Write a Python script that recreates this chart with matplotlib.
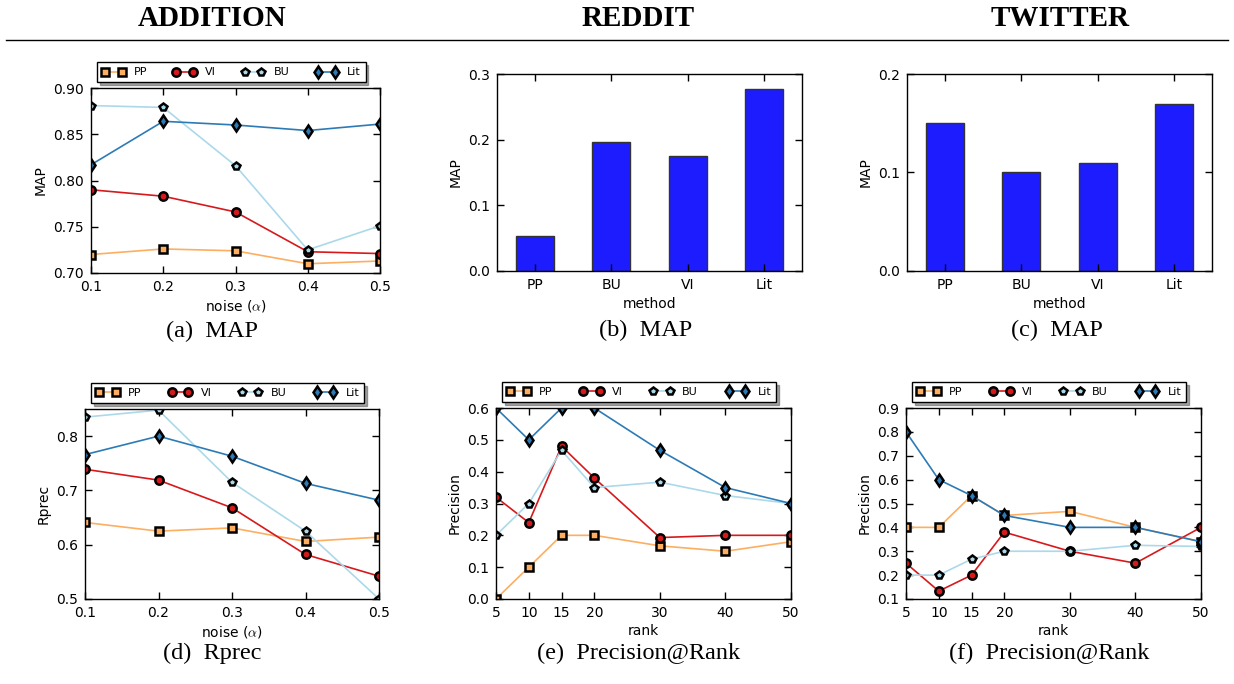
import numpy as np
import matplotlib
matplotlib.use("Agg")
import matplotlib.pyplot as plt

plt.rcParams['font.family'] = ['DejaVu Sans']
plt.rcParams['mathtext.fontset'] = 'cm'

# ---- data ----
noise = [0.1, 0.2, 0.3, 0.4, 0.5]
ranks = [5, 10, 15, 20, 30, 40, 50]
methods = ["PP", "BU", "VI", "Lit"]

# (a) ADDITION MAP
add_map_pp = [0.720, 0.726, 0.724, 0.710, 0.713]
add_map_vi = [0.790, 0.783, 0.766, 0.723, 0.721]
add_map_bu = [0.881, 0.879, 0.816, 0.725, 0.751]
add_map_lit = [0.817, 0.864, 0.860, 0.854, 0.861]

# (d) ADDITION Rprec
add_rp_pp = [0.641, 0.625, 0.631, 0.606, 0.614]
add_rp_vi = [0.739, 0.719, 0.668, 0.582, 0.542]
add_rp_bu = [0.835, 0.848, 0.715, 0.625, 0.500]
add_rp_lit = [0.766, 0.800, 0.763, 0.713, 0.682]

# (b), (c) MAP bars
reddit_map = [0.054, 0.197, 0.175, 0.277]
twitter_map = [0.150, 0.100, 0.110, 0.170]

# (e) REDDIT precision@rank
red_pp = [0.0, 0.1, 0.2, 0.2, 0.167, 0.15, 0.18]
red_vi = [0.32, 0.24, 0.48, 0.38, 0.193, 0.2, 0.2]
red_bu = [0.2, 0.3, 0.467, 0.35, 0.367, 0.325, 0.3]
red_lit = [0.6, 0.5, 0.6, 0.6, 0.467, 0.35, 0.3]

# (f) TWITTER precision@rank
tw_pp = [0.4, 0.4, 0.533, 0.45, 0.467, 0.4, 0.34]
tw_vi = [0.25, 0.133, 0.2, 0.38, 0.3, 0.25, 0.4]
tw_bu = [0.2, 0.2, 0.267, 0.3, 0.3, 0.325, 0.32]
tw_lit = [0.8, 0.6, 0.533, 0.45, 0.4, 0.4, 0.34]

# series styles: label, color, marker, size
styles = [("PP", "#fdae61", "s", 5.5),
          ("VI", "#d7191c", "o", 6),
          ("BU", "#abd9e9", "p", 6),
          ("Lit", "#2c7bb6", "d", 6.5)]

W, H = 1234, 684
fig = plt.figure(figsize=(W / 100, H / 100), dpi=100)


def px_axes(l, t, r, b):
    return fig.add_axes([l / W, 1 - b / H, (r - l) / W, (b - t) / H])


def style_ax(ax):
    ax.tick_params(direction="in", top=True, right=True, length=5,
                   width=1, labelsize=10, pad=5)
    for s in ax.spines.values():
        s.set_linewidth(1)
        s.set_color("black")


def line_panel(ax, x, series, ylim, yticks, xlabel, ylabel, xticks):
    for (lab, col, mk, ms), y in zip(styles, series):
        ax.plot(x, y, color=col, lw=1.2, marker=mk, ms=ms, mfc=col,
                mec="black", mew=1.8, label=lab)
    ax.set_xlim(x[0], x[-1])
    ax.set_ylim(*ylim)
    ax.set_yticks(yticks)
    ax.set_xticks(xticks)
    ax.set_xlabel(xlabel, fontsize=10, labelpad=3)
    ax.set_ylabel(ylabel, fontsize=10)
    style_ax(ax)
    ax.legend(loc="lower left", bbox_to_anchor=(0.02, 1.03, 0.93, 0.1),
              mode="expand", ncol=4, numpoints=2, fontsize=8, shadow=True,
              fancybox=False, edgecolor="black", borderpad=0.45,
              handlelength=2.1, handletextpad=0.8, borderaxespad=0,
              framealpha=1)


def bar_panel(ax, vals, ylim, yticks):
    x = np.arange(len(methods))
    ax.bar(x, vals, width=0.5, color="#1c1cff", edgecolor="#333333", lw=1)
    ax.set_xlim(-0.5, len(methods) - 0.5)
    ax.set_ylim(*ylim)
    ax.set_yticks(yticks)
    ax.set_xticks(x)
    ax.set_xticklabels(methods)
    ax.set_xlabel("method", fontsize=10, labelpad=4)
    ax.set_ylabel("MAP", fontsize=10)
    style_ax(ax)


ax_a = px_axes(91, 88, 380, 273)
line_panel(ax_a, noise, [add_map_pp, add_map_vi, add_map_bu, add_map_lit],
           (0.70, 0.90), np.arange(0.70, 0.901, 0.05), r"noise ($\alpha$)",
           "MAP", noise)
ax_a.set_yticklabels(["%.2f" % v for v in np.arange(0.70, 0.901, 0.05)])

ax_b = px_axes(497, 74, 802, 271)
bar_panel(ax_b, reddit_map, (0, 0.3), [0.0, 0.1, 0.2, 0.3])

ax_c = px_axes(907, 74, 1212, 271)
bar_panel(ax_c, twitter_map, (0, 0.2), [0.0, 0.1, 0.2])

ax_d = px_axes(85, 409, 379, 599)
line_panel(ax_d, noise, [add_rp_pp, add_rp_vi, add_rp_bu, add_rp_lit],
           (0.5, 0.85), [0.5, 0.6, 0.7, 0.8], r"noise ($\alpha$)",
           "Rprec", noise)

ax_e = px_axes(496, 408, 791, 599)
line_panel(ax_e, ranks, [red_pp, red_vi, red_bu, red_lit],
           (0.0, 0.6), np.arange(0, 0.61, 0.1), "rank", "Precision", ranks)
ax_e.set_yticklabels(["%.1f" % v for v in np.arange(0, 0.61, 0.1)])

ax_f = px_axes(906, 408, 1201, 599)
line_panel(ax_f, ranks, [tw_pp, tw_vi, tw_bu, tw_lit],
           (0.1, 0.9), np.arange(0.1, 0.91, 0.1), "rank", "Precision", ranks)
ax_f.set_yticklabels(["%.1f" % v for v in np.arange(0.1, 0.91, 0.1)])

for ax in (ax_a, ax_d):
    ax.set_xticklabels(["%.1f" % v for v in noise])

# headers
serif = ["Liberation Serif", "DejaVu Serif"]
for xc, txt in [(212, "ADDITION"), (638, "REDDIT"), (1060, "TWITTER")]:
    fig.text(xc / W, 1 - 19 / H, txt, ha="center", va="center",
             fontsize=21, fontweight="bold", family=serif)
fig.add_artist(plt.Line2D([0.005, 0.995], [1 - 40 / H, 1 - 40 / H],
                          color="black", lw=1, transform=fig.transFigure))

# captions
for xc, yc, txt in [(212, 331, "(a)  MAP"), (646, 330, "(b)  MAP"),
                    (1057, 330, "(c)  MAP"), (212, 653, "(d)  Rprec"),
                    (639, 653, "(e)  Precision@Rank"),
                    (1049, 653, "(f)  Precision@Rank")]:
    fig.text(xc / W, 1 - yc / H, txt, ha="center", va="center",
             fontsize=17.5, family=serif)

fig.savefig("out.png", dpi=100)
